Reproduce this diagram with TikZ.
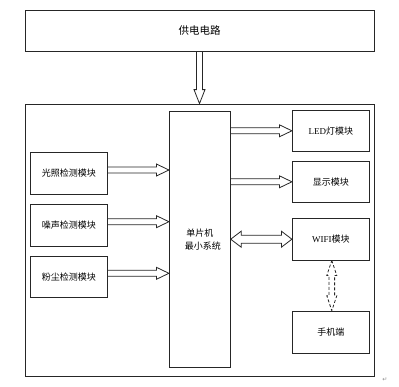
\documentclass[tikz,border=0pt]{standalone}
\usepackage{fontspec}
\setmainfont{Liberation Serif}
\newfontfamily\cjk{Noto Sans CJK SC}
\newfontfamily\dejavu{DejaVu Sans}
\usetikzlibrary{calc}
\tikzset{
  box/.style={draw=black!85, line width=0.8pt, inner sep=0pt, align=center, font=\cjk\fontsize{9}{13}\selectfont},
  blk/.style={draw=black!85, line width=0.8pt},
}
\newcommand\rarr[5]{%
  \draw[blk] let \p1=#1, \p2=#2 in
   (\x1,{\y1+#3}) -- ({\x2-#5},{\y1+#3}) -- ({\x2-#5},{\y1+#4}) -- (\x2,\y1) -- ({\x2-#5},{\y1-#4}) -- ({\x2-#5},{\y1-#3}) -- (\x1,{\y1-#3});}
\newcommand\darr[5]{%
  \draw[blk] let \p1=#1, \p2=#2 in
   (\x1,\y1) -- ({\x1+#5},{\y1+#4}) -- ({\x1+#5},{\y1+#3}) -- ({\x2-#5},{\y1+#3}) -- ({\x2-#5},{\y1+#4}) -- (\x2,\y1) -- ({\x2-#5},{\y1-#4}) -- ({\x2-#5},{\y1-#3}) -- ({\x1+#5},{\y1-#3}) -- ({\x1+#5},{\y1-#4}) -- cycle;}
\begin{document}
\begin{tikzpicture}[x=1pt,y=-1pt]
\useasboundingbox (0,0) rectangle (399,386);
% boxes
\node[box, minimum width=349pt, minimum height=41.5pt, font=\cjk\fontsize{10.5}{12}\selectfont] (power) at (199.5,30.75) {供电电路};
\node[box, minimum width=349pt, minimum height=272pt] (sys) at (199.5,240) {};
\node[box, minimum width=61pt, minimum height=255.3pt] (mcu) at (199.8,239.3) {单片机\\\hspace{6pt}最小系统};
\node[box, minimum width=77.7pt, minimum height=41.6pt] (light) at (68.8,173.5) {光照检测模块};
\node[box, minimum width=77.7pt, minimum height=41.6pt] (noise) at (68.8,225.2) {噪声检测模块};
\node[box, minimum width=77.7pt, minimum height=41.6pt] (dust) at (68.8,276.8) {粉尘检测模块};
\node[box, minimum width=77pt, minimum height=41.7pt] (led) at (330.8,130.8) {{\rmfamily LED}灯模块};
\node[box, minimum width=77pt, minimum height=41.7pt] (disp) at (330.8,181.8) {显示模块};
\node[box, minimum width=77pt, minimum height=41.7pt] (wifi) at (330.8,239.2) {{\rmfamily WIFI}模块};
\node[box, minimum width=77pt, minimum height=42.3pt] (phone) at (330.8,332.2) {手机端};
% power down arrow
\draw[blk] let \p1=(power.south), \p2=(sys.north) in
  ({\x1-3pt},\y1) -- ({\x1-3pt},{\y2+14pt}) -- ({\x1-5.5pt},{\y2+14pt}) -- (\x2,\y2) -- ({\x1+5.5pt},{\y2+14pt}) -- ({\x1+3pt},{\y2+14pt}) -- ({\x1+3pt},\y1);
% sensor arrows
\rarr{($(light.east)+(0,-3.5)$)}{(mcu.west)}{3pt}{6pt}{12.5pt}
\rarr{($(noise.east)+(0,-3.5)$)}{(mcu.west)}{3pt}{6pt}{12.5pt}
\rarr{($(dust.east)+(0,-3.5)$)}{(mcu.west)}{3pt}{6pt}{12.5pt}
% output arrows
\rarr{($(mcu.east|-led.west)$)}{(led.west)}{3pt}{6pt}{12.5pt}
\rarr{($(mcu.east|-disp.west)$)}{(disp.west)}{3pt}{6pt}{12.5pt}
\darr{($(mcu.east|-wifi.west)$)}{(wifi.west)}{4pt}{8pt}{10.5pt}
% dashed double arrow wifi-phone
\draw[blk, dashed, dash pattern=on 3pt off 2pt] let \p1=($(wifi.south)+(1,0)$), \p2=(phone.north) in
  (\x1,\y1) -- ({\x1+5pt},{\y1-15pt}) -- ({\x1+2.8pt},{\y1-15pt}) -- ({\x1+2.8pt},{\y2+15pt}) -- ({\x1+5pt},{\y2+15pt}) -- (\x1,\y2) -- ({\x1-5pt},{\y2+15pt}) -- ({\x1-2.8pt},{\y2+15pt}) -- ({\x1-2.8pt},{\y1-15pt}) -- ({\x1-5pt},{\y1-15pt}) -- cycle;
% paragraph mark
\node[font=\dejavu\fontsize{6}{6}\selectfont, text=black!45, inner sep=0pt] (ret) at (385,380) {↵};
\end{tikzpicture}
\end{document}
